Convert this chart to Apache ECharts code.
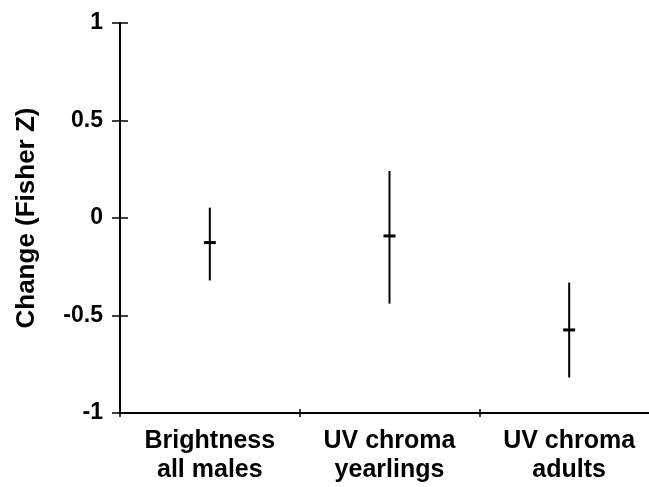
<!DOCTYPE html>
<html>
<head>
<meta charset="utf-8">
<script src="https://cdn.jsdelivr.net/npm/echarts@6/dist/echarts.min.js"></script>
<style>
html,body{margin:0;padding:0;background:#fff;}
#chart{width:649px;height:487px;}
</style>
</head>
<body>
<div id="chart"></div>
<script>
const categories = ['Brightness\nall males', 'UV chroma\nyearlings', 'UV chroma\nadults'];
const means = [-0.126, -0.092, -0.574];
const lower = [-0.32, -0.439, -0.818];
const upper = [0.053, 0.241, -0.331];
const yTicks = [-1, -0.5, 0, 0.5, 1];

const FONT = "'Liberation Sans', Arial, Helvetica, sans-serif";
const chart = echarts.init(document.getElementById('chart'), null, {renderer: 'canvas'});

const data = categories.map((c, i) => [i, means[i], lower[i], upper[i]]);

chart.setOption({
  animation: false,
  backgroundColor: '#fff',
  grid: {left: 120, top: 23, width: 539, height: 390, containLabel: false, outerBoundsMode: 'none'},
  xAxis: [{
    type: 'category',
    data: categories,
    boundaryGap: true,
    axisLine: {show: true, onZero: false, lineStyle: {color: '#000', width: 2}},
    axisTick: {show: true, length: 4, lineStyle: {color: '#000', width: 1.5}},
    axisLabel: {color: '#000', fontFamily: FONT, fontWeight: 'bold', fontSize: 25, lineHeight: 29, margin: 14, interval: 0},
    splitLine: {show: false}
  }, {
    type: 'category',
    data: categories,
    position: 'bottom',
    boundaryGap: true,
    axisLine: {show: false, onZero: false},
    axisTick: {show: true, inside: true, length: 4, lineStyle: {color: '#000', width: 1.5}},
    axisLabel: {show: false},
    splitLine: {show: false}
  }],
  yAxis: [{
    type: 'value',
    min: yTicks[0], max: yTicks[yTicks.length - 1], interval: 0.5,
    name: 'Change (Fisher Z)',
    nameLocation: 'middle',
    nameGap: 80,
    nameRotate: 90,
    nameTextStyle: {color: '#000', fontFamily: FONT, fontWeight: 'bold', fontSize: 26},
    axisLine: {show: true, onZero: false, lineStyle: {color: '#000', width: 2}},
    axisTick: {show: true, length: 8, lineStyle: {color: '#000', width: 1.5}},
    axisLabel: {color: '#000', fontFamily: FONT, fontWeight: 'bold', fontSize: 23, margin: 17,
      formatter: v => String(v)},
    splitLine: {show: false}
  }, {
    type: 'value',
    min: yTicks[0], max: yTicks[yTicks.length - 1], interval: 0.5,
    position: 'left',
    axisLine: {show: false, onZero: false},
    axisTick: {show: true, inside: true, length: 8, lineStyle: {color: '#000', width: 1.5}},
    axisLabel: {show: false},
    splitLine: {show: false}
  }],
  series: [{
    type: 'custom',
    xAxisIndex: 0,
    yAxisIndex: 0,
    data: data,
    encode: {x: 0, y: [1, 2, 3]},
    renderItem: function (params, api) {
      const x = api.value(0);
      const pMean = api.coord([x, api.value(1)]);
      const pLow = api.coord([x, api.value(2)]);
      const pHigh = api.coord([x, api.value(3)]);
      const half = 6;
      return {
        type: 'group',
        children: [{
          type: 'line',
          shape: {x1: pLow[0], y1: pLow[1], x2: pHigh[0], y2: pHigh[1]},
          style: {stroke: '#000', lineWidth: 2}
        }, {
          type: 'line',
          shape: {x1: pMean[0] - half, y1: pMean[1], x2: pMean[0] + half, y2: pMean[1]},
          style: {stroke: '#000', lineWidth: 3}
        }]
      };
    }
  }]
});
</script>
</body>
</html>
